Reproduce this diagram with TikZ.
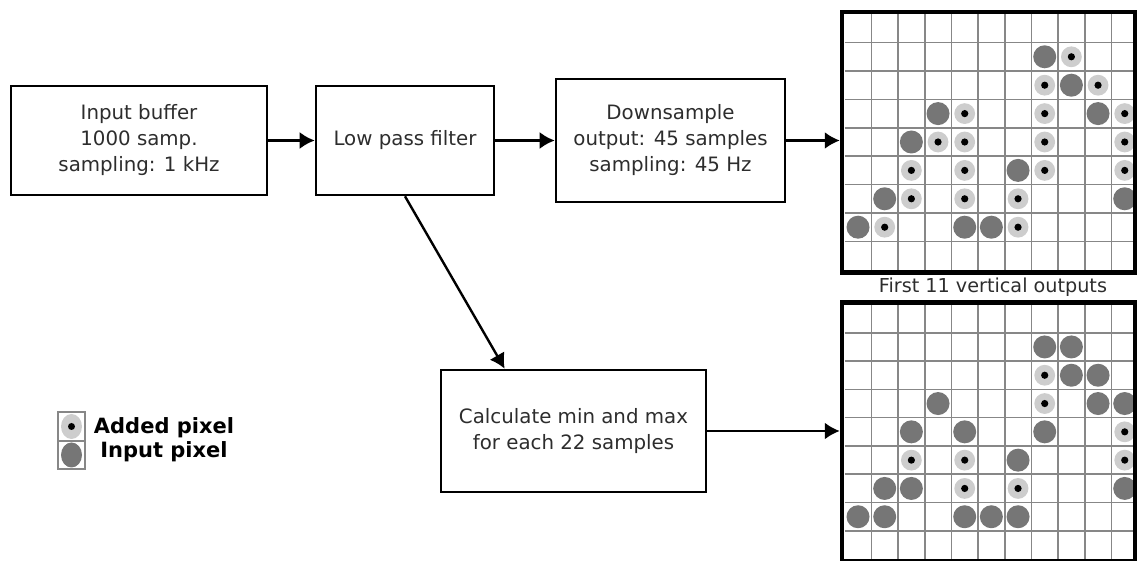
\documentclass[tikz,border=0pt]{standalone}
\usepackage{fontspec}
\setmainfont{DejaVu Sans}
\usepackage{tikz}
\usetikzlibrary{positioning,calc}
\usetikzlibrary{arrows.meta}
\definecolor{gridgray}{RGB}{135,135,135}
\definecolor{inpgray}{RGB}{118,118,118}
\definecolor{addgray}{RGB}{205,205,205}
\definecolor{txtgray}{RGB}{45,45,45}
\tikzstyle{blocco} = [rectangle, draw=black, line width=1.3pt, text=txtgray,
align=center, font=\fontsize{9.9}{13}\selectfont]
\tikzstyle{arrow} = [line width=1.2pt,-{Latex[length=7.5pt,width=8.5pt]}]
\tikzstyle{griglia} = [rectangle, draw=black, line width=2.25pt, inner sep=0pt]
\tikzstyle{gridline} = [draw=gridgray, line width=0.8pt]
\tikzstyle{inpix} = [fill=inpgray]
\tikzstyle{addpix} = [fill=addgray]
\tikzstyle{legenda} = [font=\fontsize{10.5}{12}\selectfont\bfseries]

\begin{document}
\begin{tikzpicture}[x=0.5pt,y=-0.5pt]
\useasboundingbox (0,0) rectangle (1137,561);
\clip (0,0) rectangle (1137,561);
% blocchi
\node (buf) at (139,140.5) [blocco, minimum width=128pt, minimum height=54.5pt] {Input buffer\\1000 samp.\\sampling: 1 kHz};
\node (lpf) at (405,140.5) [blocco, minimum width=89pt, minimum height=54.5pt] {Low pass filter};
\node (down) at (670.5,140.5) [blocco, minimum width=114.5pt, minimum height=61.5pt] {Downsample\\output: 45 samples\\sampling: 45 Hz};
\node (minmax) at (573.5,431) [blocco, minimum width=132.5pt, minimum height=61pt] {Calculate min and max\\for each 22 samples};
% prima griglia
\begin{scope}[shift={(844.7,14.2)}]
\foreach \i in {1,...,10} \draw[gridline] (\i*26.67,0) -- (\i*26.67,256);
\foreach \j in {1,...,8} \draw[gridline] (0,\j*28.4) -- (290,\j*28.4);
\foreach \c/\r in {7/1,8/2,3/3,9/3,2/4,6/5,1/6,10/6,0/7,4/7,5/7}
  \fill[inpix] (\c*26.67+13.33,\r*28.4+14.2) circle (5.75pt);
\foreach \c/\r in {8/1,7/2,9/2,4/3,7/3,10/3,3/4,4/4,7/4,10/4,2/5,4/5,7/5,10/5,2/6,4/6,6/6,1/7,6/7}
  {\fill[addpix] (\c*26.67+13.33,\r*28.4+14.2) circle (5.2pt);
   \fill (\c*26.67+13.33,\r*28.4+14.2) circle (1.8pt);}
\end{scope}
\node (g1) at (988.5,142.3) [griglia, minimum width=146.5pt, minimum height=130.2pt] {};
\node (cap) at (993,287) [text=txtgray, font=\fontsize{9.6}{12}\selectfont] {First 11 vertical outputs};
% seconda griglia
\begin{scope}[shift={(844.7,304.5)}]
\foreach \i in {1,...,10} \draw[gridline] (\i*26.67,0) -- (\i*26.67,256);
\foreach \j in {1,...,8} \draw[gridline] (0,\j*28.3) -- (290,\j*28.3);
\foreach \c/\r in {7/1,8/1,8/2,9/2,3/3,9/3,10/3,2/4,4/4,7/4,6/5,1/6,2/6,10/6,0/7,1/7,4/7,5/7,6/7}
  \fill[inpix] (\c*26.67+13.33,\r*28.3+14.15) circle (5.75pt);
\foreach \c/\r in {7/2,7/3,10/4,2/5,4/5,10/5,4/6,6/6}
  {\fill[addpix] (\c*26.67+13.33,\r*28.3+14.15) circle (5.2pt);
   \fill (\c*26.67+13.33,\r*28.3+14.15) circle (1.8pt);}
\end{scope}
\node (g2) at (988.5,432) [griglia, minimum width=146.5pt, minimum height=129.5pt] {};
% legenda
\node (legadd) at (71.5,426.5) [rectangle, gridline, minimum width=13.5pt, minimum height=14.5pt, inner sep=0pt] {};
\node (leginp) at (71.5,455) [rectangle, gridline, minimum width=13.5pt, minimum height=14pt, inner sep=0pt] {};
\fill[addpix] (legadd) ellipse [x radius=5.25pt, y radius=6.25pt];
\fill (legadd) circle (1.75pt);
\fill[inpix] (leginp) ellipse [x radius=5.25pt, y radius=6.25pt];
\node[legenda] (addtxt) at (164,428) {Added pixel};
\node[legenda] (inptxt) at (164,452) {Input pixel};
% frecce
\draw[arrow] (buf) -- (lpf);
\draw[arrow] (lpf) -- (down);
\draw[arrow] (down.east) -- (down.east -| g1.west);
\draw[arrow] (lpf.south) -- ([xshift=32.5pt]minmax.north west);
\draw[arrow] (minmax.east) -- (minmax.east -| g2.west);
\end{tikzpicture}
\end{document}
